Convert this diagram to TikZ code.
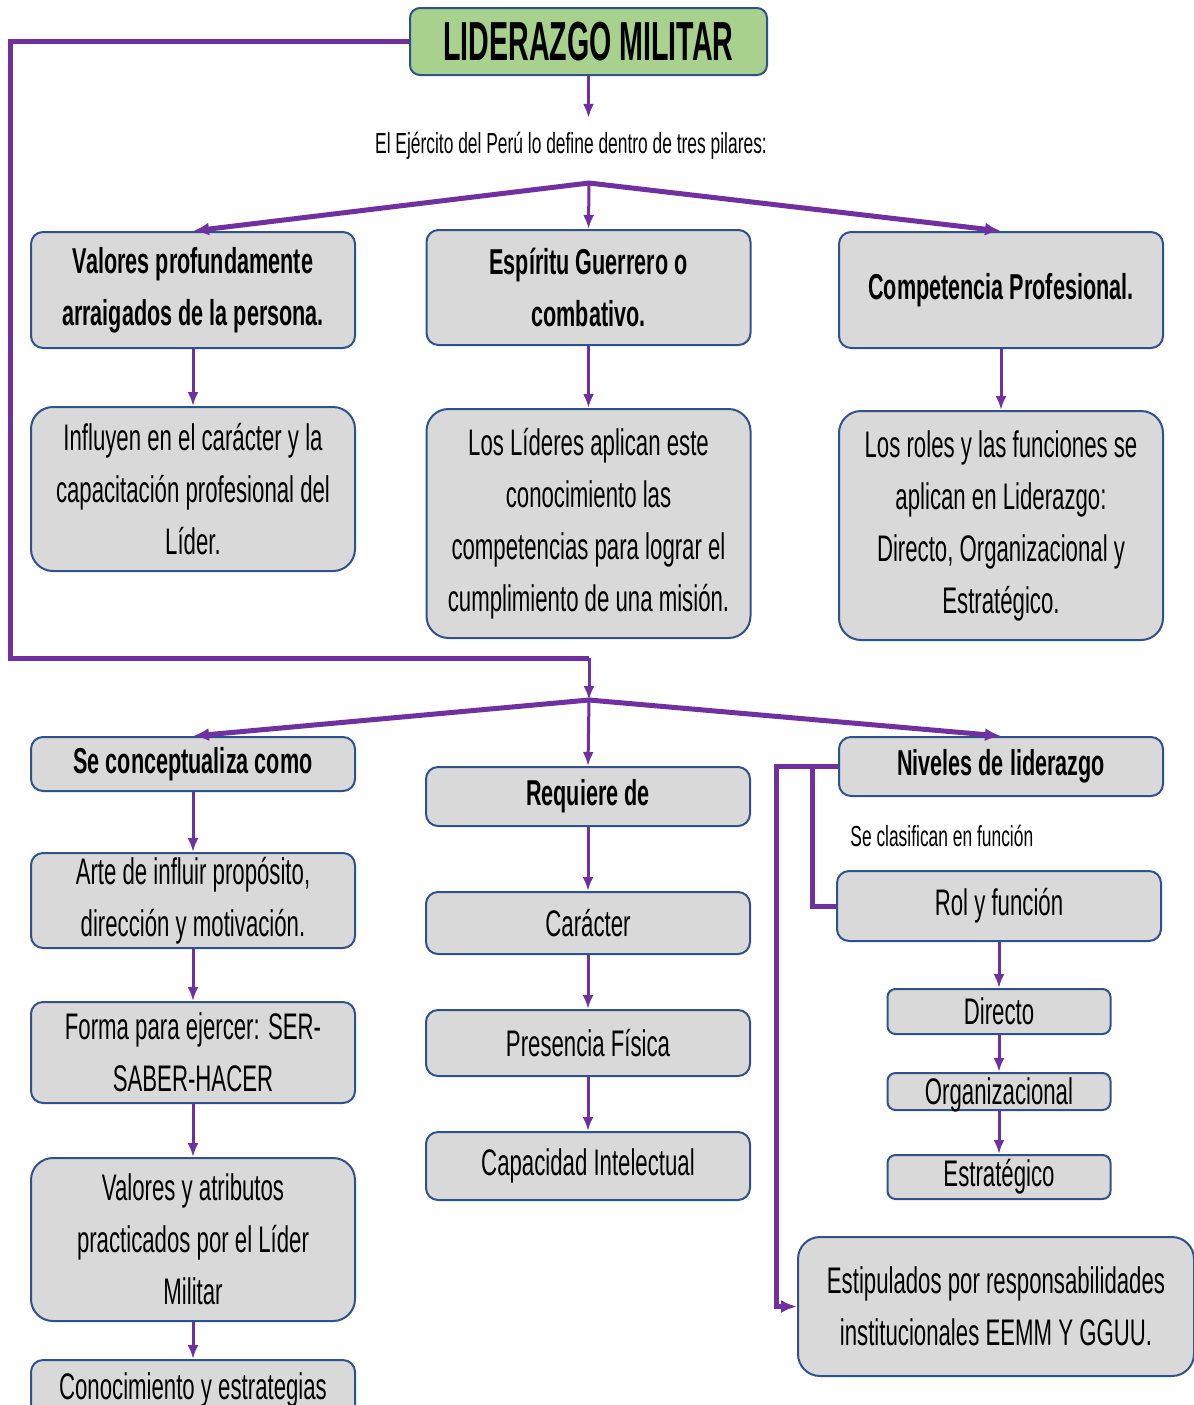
\documentclass[tikz,border=0pt]{standalone}
\usepackage{fontspec}
\setmainfont[FakeStretch=0.6]{Liberation Sans}
\newfontfamily\titlefont[FakeStretch=0.52]{Liberation Sans}
\usepackage{xcolor}
\usepackage{tikz}
\usetikzlibrary{positioning,calc,arrows.meta}
\definecolor{lineViolet}{HTML}{7030A0}
\definecolor{boxGray}{HTML}{D9D9D9}
\definecolor{boxBorder}{HTML}{2F528F}
\definecolor{titleGreen}{HTML}{A9D18E}
\tikzset{
  titleBox/.style={
    rectangle,
    rounded corners=5pt,
    draw=boxBorder,
    line width=1pt,
    fill=titleGreen,
    minimum width=178.5pt,
    minimum height=33.5pt,
    inner sep=1pt,
    align=center,
    font=\titlefont\bfseries\fontsize{27.5}{30}\selectfont
  },
  conceptBox/.style={
    rectangle,
    rounded corners=6pt,
    draw=boxBorder,
    line width=1pt,
    fill=boxGray,
    minimum width=162pt,
    inner sep=2pt,
    align=center,
    font=\fontsize{18.5}{26}\selectfont
  },
  headBox/.style={
    conceptBox,
    font=\bfseries\fontsize{18}{26}\selectfont
  },
  bigBox/.style={
    conceptBox,
    rounded corners=11pt
  },
  levelBox/.style={
    conceptBox,
    minimum width=111.5pt,
    rounded corners=4pt
  },
  noteText/.style={
    inner sep=2pt,
    font=\fontsize{14.5}{18}\selectfont
  },
  arrowLine/.style={
    draw=lineViolet,
    line width=1.5pt,
    -{Latex[length=7pt,width=5.5pt]}
  },
  thickArrow/.style={
    draw=lineViolet,
    line width=2.5pt,
    -{Latex[length=8pt,width=6.5pt]}
  },
  thickLine/.style={
    draw=lineViolet,
    line width=2.5pt
  }
}
\begin{document}
\begin{tikzpicture}[x=0.5pt, y=-0.5pt]
  \useasboundingbox (0,0) rectangle (1194,1405);

  % title and first level
  \node[titleBox] (title) at (588.5,41.5) {LIDERAZGO MILITAR};
  \node[noteText] (pillars) at (571,146) {El Ejército del Perú lo define dentro de tres pilares:};
  \coordinate (fork1) at (589,183);

  \node[headBox, minimum height=58pt] (values) at (193,290) {Valores profundamente\\arraigados de la persona.};
  \node[headBox, minimum height=57.5pt] (spirit) at (588.5,287.5) {Espíritu Guerrero o\\combativo.};
  \node[headBox, minimum height=58pt] (competence) at (1001,290) {Competencia Profesional.};

  \node[bigBox, minimum height=82pt, below=28.5pt of values] (valuesNote) {Influyen en el carácter y la\\capacitación profesional del\\Líder.};
  \node[bigBox, minimum height=114.5pt, below=31pt of spirit] (spiritNote) {Los Líderes aplican este\\conocimiento las\\competencias para lograr el\\cumplimiento de una misión.};
  \node[bigBox, minimum height=114.5pt, below=30.5pt of competence] (competenceNote) {Los roles y las funciones se\\aplican en Liderazgo:\\Directo, Organizacional y\\Estratégico.};

  % second level
  \coordinate (loopCorner) at (10,658);
  \coordinate (loopTurn) at (589,658);
  \coordinate (fork2) at (589,700);

  \node[headBox, minimum height=27pt] (concept) at (193,764) {Se conceptualiza como};
  \node[headBox, minimum height=29.5pt] (requires) at (588,796.5) {Requiere de};
  \node[headBox, minimum height=29.5pt] (levels) at (1001,766.5) {Niveles de liderazgo};

  \node[conceptBox, minimum height=47.5pt, below=30pt of concept] (art) {Arte de influir propósito,\\dirección y motivación.};
  \node[conceptBox, minimum height=50.5pt, below=26pt of art] (form) {Forma para ejercer: SER-\\SABER-HACER};
  \node[bigBox, minimum height=81.5pt, below=26.5pt of form] (attributes) {Valores y atributos\\practicados por el Líder\\Militar};
  \node[conceptBox, minimum height=30pt, below=18.5pt of attributes] (knowledge) {Conocimiento y estrategias};

  \node[conceptBox, minimum height=31pt, below=32pt of requires] (character) {Carácter};
  \node[conceptBox, minimum height=33pt, below=27pt of character] (presence) {Presencia Física};
  \node[conceptBox, minimum height=34pt, below=27pt of presence] (intellect) {Capacidad Intelectual};

  \node[noteText, anchor=west] (classify) at (846,836) {Se clasifican en función};
  \node[conceptBox, minimum height=35pt] (role) at (999,906) {Rol y función};
  \node[levelBox, minimum height=22.5pt, below=23pt of role] (direct) {Directo};
  \node[levelBox, inner ysep=0pt, text height=15.5pt, text depth=3pt, below=18.5pt of direct] (organizational) {Organizacional};
  \node[levelBox, minimum height=22pt, below=21.5pt of organizational] (strategic) {Estratégico};
  \node[bigBox, minimum width=198pt, minimum height=69.5pt] (stipulated) at (996,1306.5) {Estipulados por responsabilidades\\institucionales EEMM Y GGUU.};

  % connectors
  \draw[arrowLine, shorten >=5pt] (title.south) -- (title.south |- pillars.north);
  \draw[thickArrow] (fork1) -- (values.north);
  \draw[thickArrow] (fork1) -- (competence.north);
  \draw[arrowLine] (fork1) -- (spirit.north);
  \draw[arrowLine] (values) -- (valuesNote);
  \draw[arrowLine] (spirit) -- (spiritNote);
  \draw[arrowLine] (competence) -- (competenceNote);

  \draw[thickLine] (title.west) -| (loopCorner) -- (loopTurn);
  \draw[arrowLine] (loopTurn) -- (fork2);
  \draw[thickArrow] (fork2) -- (concept.north);
  \draw[thickArrow] (fork2) -- (levels.north);
  \draw[arrowLine] (fork2) -- (requires.north);

  \draw[arrowLine] (concept) -- (art);
  \draw[arrowLine] (art) -- (form);
  \draw[arrowLine] (form) -- (attributes);
  \draw[arrowLine] (attributes) -- (knowledge);
  \draw[arrowLine] (requires) -- (character);
  \draw[arrowLine] (character) -- (presence);
  \draw[arrowLine] (presence) -- (intellect);

  \draw[thickArrow] (levels.west) -- ++(-62,0) |- (stipulated.west);
  \draw[thickLine] (levels.west) ++(-26,0) |- (role.west);
  \draw[arrowLine] (role) -- (direct);
  \draw[arrowLine] (direct) -- (organizational);
  \draw[arrowLine] (organizational) -- (strategic);
\end{tikzpicture}
\end{document}
